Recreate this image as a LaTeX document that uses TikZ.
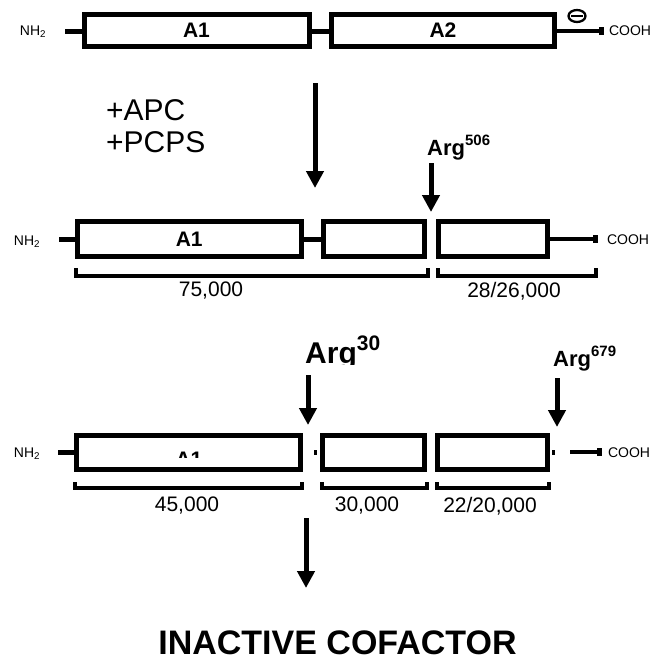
\documentclass[tikz,border=0pt]{standalone}
\usepackage{fontspec}
\setmainfont{Liberation Sans}
\usetikzlibrary{arrows.meta}
\newcommand{\fsz}[1]{\fontsize{#1}{#1}\selectfont}
\begin{document}
\begin{tikzpicture}[x=1pt,y=-1pt,
  seg/.style={draw, line width=5pt, rectangle, inner sep=0pt, outer sep=0pt, font=\bfseries\fsz{21}},
  stub/.style={line width=5pt},
  tail/.style={line width=4pt},
  cut/.style={line width=5pt, -{Triangle[length=17pt,width=17pt]}},
  term/.style={inner sep=0pt, font=\fsz{14}},
  mw/.style={inner sep=0pt, font=\fsz{21}},
  brk/.style={line width=4pt, line join=miter},
  lbl/.style={inner sep=0pt}
]
\useasboundingbox[fill=white] (0,0) rectangle (661,662);

% ---------- row 1 ----------
\node[seg, minimum width=225pt, minimum height=32pt] (r1a) at (196.5,30.5) {A1};
\node[seg, minimum width=223pt, minimum height=32pt] (r1b) at (443,30.5) {A2};
\node[term] (r1n) at (33,32) {NH\textsubscript{2}};
\node[term] (r1c) at (630,31) {COOH};
\coordinate (r1s) at (65,31);
\coordinate (r1e) at (600,31);
\draw[stub] (r1s) -- (r1a.west |- r1s);
\draw[stub] (r1a.east |- r1s) -- (r1b.west |- r1s);
\draw[tail] (r1b.east |- r1e) -- (r1e);
\fill (599,27) rectangle (604,35);
\draw[line width=2.3pt] (577,16) ellipse [x radius=8.5pt, y radius=6pt];
\draw[line width=2.3pt] (571,16) -- (583,16);

% ---------- transition ----------
\node[lbl, font=\fsz{30}, anchor=west] (apc) at (106,110) {+APC};
\node[lbl, font=\fsz{30}, anchor=west] (pcps) at (106,142) {+PCPS};
\coordinate (t1) at (315,83);
\coordinate (t2) at (315,188);
\draw[cut] (t1) -- (t2);

% ---------- row 2 ----------
\node[seg, minimum width=223.5pt, minimum height=35pt] (r2a) at (189.25,239) {A1};
\node[seg, minimum width=101pt, minimum height=35pt] (r2b) at (374,239) {};
\node[seg, minimum width=109.5pt, minimum height=35pt] (r2c) at (492.75,239) {};
\node[term] (r2n) at (27,242) {NH\textsubscript{2}};
\node[term] (r2o) at (628,240) {COOH};
\coordinate (r2s) at (59,239);
\coordinate (r2e) at (594,239);
\draw[stub] (r2s) -- (r2a.west |- r2s);
\draw[stub] (r2a.east |- r2s) -- (r2b.west |- r2s);
\draw[tail] (r2c.east |- r2e) -- (r2e);
\fill (593,235) rectangle (598,243);

\node[lbl, font=\bfseries\fsz{22}, anchor=base west] (arg506) at (427,155) {Arg\raisebox{10pt}{\fsz{15}506}};
\coordinate (c1) at (431,163);
\coordinate (c2) at (431,212);
\draw[cut] (c1) -- (c2);

\draw[brk] (76,268) -- (76,276) -- (428,276) -- (428,268);
\draw[brk] (437.5,268) -- (437.5,276) -- (596,276) -- (596,268);
\node[mw] (m75) at (211,291) {75,000};
\node[mw] (m28) at (514,291) {28/26,000};

% ---------- row 3 ----------
\begin{scope}
  \clip (140,445) rectangle (240,457.5);
  \node[lbl, font=\bfseries\fsz{21}, anchor=base] (r3t) at (189,466) {A1};
\end{scope}
\node[seg, minimum width=224pt, minimum height=34pt] (r3a) at (188.5,452.5) {};
\node[seg, minimum width=102pt, minimum height=34pt] (r3b) at (373.5,452.5) {};
\node[seg, minimum width=110pt, minimum height=34pt] (r3c) at (492.5,452.5) {};
\node[term] (r3n) at (27,454) {NH\textsubscript{2}};
\node[term] (r3o) at (629,453) {COOH};
\coordinate (r3s) at (58,452);
\coordinate (r3t1) at (570,452);
\coordinate (r3t2) at (598,452);
\draw[stub] (r3s) -- (r3a.west |- r3s);
\draw[tail] (r3t1) -- (r3t2);
\fill (597,448) rectangle (602,456);
\fill (314,450) rectangle (316.5,455);
\fill (552,450) rectangle (554.5,455);

\begin{scope}
  \clip (290,320) rectangle (400,364.5);
  \node[lbl, font=\bfseries\fsz{30}, anchor=base west] (arg30) at (305,363) {Arg\raisebox{13pt}{\fsz{21}30}};
\end{scope}
\coordinate (d1) at (308,375);
\coordinate (d2) at (308,425);
\draw[cut] (d1) -- (d2);

\node[lbl, font=\bfseries\fsz{22}, anchor=base west] (arg679) at (553,366) {Arg\raisebox{10pt}{\fsz{15}679}};
\coordinate (e1) at (557,378);
\coordinate (e2) at (557,427);
\draw[cut] (e1) -- (e2);

\draw[brk] (75,482) -- (75,488) -- (302,488) -- (302,482);
\draw[brk] (322,482) -- (322,488) -- (427,488) -- (427,482);
\draw[brk] (437,482) -- (437,488) -- (549,488) -- (549,482);
\node[mw] (m45) at (187,506) {45,000};
\node[mw] (m30) at (367,506) {30,000};
\node[mw] (m22) at (490,506) {22/20,000};

% ---------- result ----------
\coordinate (f1) at (306,518);
\coordinate (f2) at (306,588);
\draw[cut] (f1) -- (f2);
\node[lbl, font=\bfseries\fsz{34}] (inact) at (337.5,643) {INACTIVE COFACTOR};
\end{tikzpicture}
\end{document}
